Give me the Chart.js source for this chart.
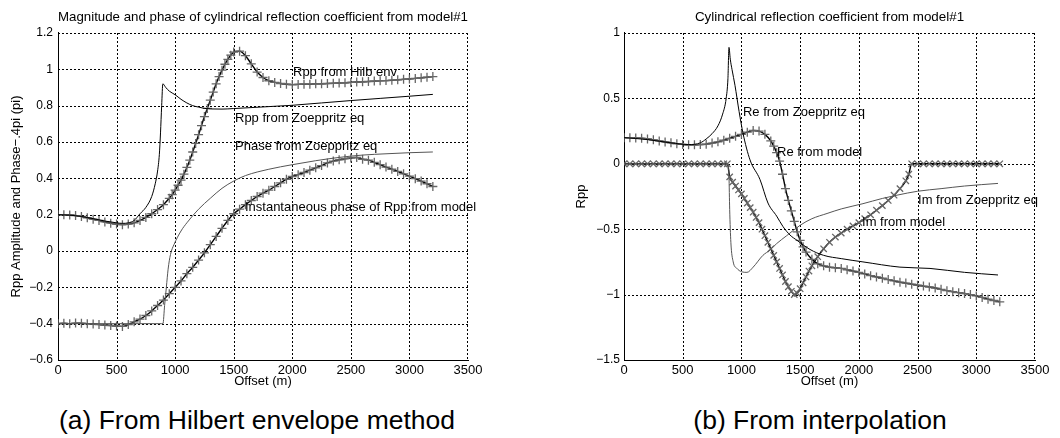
<!DOCTYPE html>
<html>
<head>
<meta charset="utf-8">
<script src="https://cdn.jsdelivr.net/npm/chart.js@4.4.1/dist/chart.umd.min.js"></script>
<style>
  body { margin: 0; background: #fff; width: 1060px; height: 438px; overflow: hidden; position: relative;
         font-family: "Liberation Sans", Arial, sans-serif; }
  .panel { position: absolute; top: 0; width: 530px; height: 395px; }
  .caption { position: absolute; top: 407px; width: 420px; font-size: 26.5px; line-height: 26.5px;
             color: #000; text-align: center; white-space: nowrap; }
</style>
</head>
<body>
<div class="panel" style="left:0"><canvas id="chart-a" width="530" height="395"></canvas></div>
<div class="panel" style="left:530px"><canvas id="chart-b" width="530" height="395"></canvas></div>
<div class="caption" style="left:47px">(a) From Hilbert envelope method</div>
<div class="caption" style="left:610px">(b) From interpolation</div>
<script>
// ---- panel (a): magnitude and phase ----
const zoeMagX = [0, 100, 200, 300, 400, 500, 550, 600, 650, 700, 750, 800, 830, 850, 865, 875, 885, 895,
  920, 950, 1000, 1050, 1100, 1150, 1200, 1250, 1300, 1400, 1500, 1750, 2000, 2250, 2500, 2750, 3000, 3200];
const zoeMag = [0.2, 0.197, 0.19, 0.178, 0.165, 0.155, 0.152, 0.155, 0.168, 0.205, 0.24, 0.3, 0.37, 0.44, 0.53, 0.65, 0.8, 0.92,
  0.9, 0.88, 0.86, 0.835, 0.815, 0.8, 0.792, 0.785, 0.782, 0.781, 0.784, 0.793, 0.802, 0.815, 0.828, 0.84, 0.852, 0.862];

const zoePhaseX = [0, 500, 885, 896, 910, 925, 940, 960, 990, 1050, 1100, 1200, 1300, 1400, 1500, 1600, 1800,
  2000, 2200, 2400, 2600, 2800, 3000, 3200];
const zoePhase = [-0.4, -0.4, -0.4, -0.4, -0.3, -0.2, -0.1, -0.02, 0.035, 0.11, 0.155, 0.23, 0.29, 0.345, 0.385, 0.415, 0.45,
  0.475, 0.497, 0.515, 0.528, 0.535, 0.541, 0.545];

const hilbMagX = [0, 50, 100, 150, 200, 250, 300, 350, 400, 450, 500, 550, 600, 650, 700, 750, 800, 850, 900, 950,
  975, 1000, 1025, 1050, 1075, 1100, 1125, 1150, 1175, 1200, 1225, 1250, 1275, 1300, 1325, 1350, 1375, 1400, 1425, 1450, 1475,
  1500, 1550, 1600, 1650, 1700, 1750, 1800, 1850, 1900, 1950, 2000, 2050, 2100, 2150, 2200, 2250, 2300, 2350, 2400, 2450,
  2500, 2550, 2600, 2650, 2700, 2750, 2800, 2850, 2900, 2950, 3000, 3050, 3100, 3150, 3200];
const hilbMag = [0.2, 0.2, 0.198, 0.195, 0.19, 0.183, 0.175, 0.168, 0.16, 0.153, 0.148, 0.145, 0.148, 0.155, 0.168, 0.185, 0.205, 0.228, 0.255, 0.29,
  0.31, 0.335, 0.362, 0.39, 0.423, 0.46, 0.5, 0.545, 0.592, 0.64, 0.69, 0.74, 0.785, 0.83, 0.875, 0.92, 0.96, 0.995, 1.028, 1.055, 1.078,
  1.095, 1.1, 1.075, 1.03, 0.985, 0.955, 0.937, 0.928, 0.922, 0.918, 0.916, 0.917, 0.918, 0.918, 0.92, 0.92, 0.922, 0.923, 0.925, 0.926,
  0.928, 0.93, 0.931, 0.933, 0.935, 0.937, 0.938, 0.94, 0.942, 0.945, 0.947, 0.95, 0.953, 0.957, 0.96];

const instPhaseX = [0, 50, 100, 150, 200, 250, 300, 350, 400, 450, 500, 550, 600, 650, 700, 750, 800, 850, 900, 950,
  1000, 1050, 1100, 1150, 1200, 1250, 1300, 1350, 1400, 1450, 1500, 1550, 1600, 1650, 1700, 1750, 1800, 1850, 1900, 1950,
  2000, 2050, 2100, 2150, 2200, 2250, 2300, 2350, 2400, 2450, 2500, 2550, 2600, 2650, 2700, 2750, 2800, 2850, 2900, 2950,
  3000, 3050, 3100, 3150, 3200];
const instPhase = [-0.4, -0.398, -0.4, -0.397, -0.398, -0.4, -0.402, -0.405, -0.408, -0.41, -0.413, -0.415, -0.405, -0.39, -0.375, -0.355, -0.33, -0.3, -0.27, -0.235,
  -0.2, -0.165, -0.125, -0.09, -0.05, -0.01, 0.035, 0.08, 0.125, 0.168, 0.205, 0.23, 0.255, 0.278, 0.3, 0.318, 0.335, 0.355, 0.375, 0.395,
  0.41, 0.42, 0.432, 0.445, 0.458, 0.47, 0.485, 0.495, 0.502, 0.508, 0.512, 0.515, 0.505, 0.5, 0.488, 0.475, 0.462, 0.45, 0.438, 0.425,
  0.412, 0.398, 0.385, 0.37, 0.355];

const labelsA = [
  { text: 'Rpp from Hilb env', x: 2006, y: 0.985 },
  { text: 'Rpp from Zoeppritz eq', x: 1511, y: 0.732 },
  { text: 'Phase from Zoeppritz eq', x: 1511, y: 0.578 },
  { text: 'Instantaneous phase of Rpp from model', x: 1596, y: 0.242 }
];

// ---- panel (b): real and imaginary parts ----
const zoeReX = [0, 200, 400, 550, 650, 700, 750, 800, 840, 870, 885, 894, 905, 920, 945, 980, 1013, 1073, 1158, 1226,
  1300, 1354, 1414, 1473, 1584, 1700, 1850, 2035, 2350, 2606, 2900, 3185];
const zoeRe = [0.2, 0.185, 0.16, 0.147, 0.16, 0.19, 0.23, 0.29, 0.38, 0.5, 0.65, 0.89, 0.8, 0.72, 0.6, 0.4, 0.235, 0.03, -0.12, -0.3,
  -0.4, -0.48, -0.545, -0.585, -0.655, -0.7, -0.725, -0.75, -0.79, -0.8, -0.83, -0.85];

const zoeImX = [0, 500, 885, 894, 900, 910, 930, 962, 1000, 1047, 1100, 1183, 1243, 1300, 1385, 1500, 1600, 1729, 1850,
  2035, 2200, 2325, 2500, 2700, 2900, 3185];
const zoeIm = [0, 0, 0, -0.1, -0.35, -0.6, -0.75, -0.8, -0.825, -0.83, -0.79, -0.7, -0.66, -0.61, -0.55, -0.47, -0.42, -0.38, -0.345,
  -0.305, -0.265, -0.24, -0.21, -0.19, -0.17, -0.15];

const modelReX = [0, 50, 100, 150, 200, 250, 300, 350, 400, 450, 500, 550, 600, 650, 700, 750, 800, 850, 900, 950,
  1000, 1050, 1100, 1150, 1200, 1250, 1275, 1300, 1325, 1350, 1375, 1400, 1425, 1450, 1475, 1500, 1525, 1550,
  1600, 1650, 1700, 1750, 1800, 1850, 1900, 1950, 2000, 2050, 2100, 2150, 2200, 2250, 2300, 2350, 2400, 2450,
  2500, 2550, 2600, 2650, 2700, 2750, 2800, 2850, 2900, 2950, 3000, 3050, 3100, 3150, 3200];
const modelRe = [0.2, 0.2, 0.198, 0.195, 0.19, 0.183, 0.175, 0.167, 0.16, 0.153, 0.148, 0.145, 0.145, 0.147, 0.15, 0.158, 0.168, 0.18, 0.195, 0.21,
  0.225, 0.242, 0.255, 0.25, 0.225, 0.175, 0.135, 0.085, 0.02, -0.08, -0.19, -0.28, -0.36, -0.44, -0.52, -0.585, -0.635, -0.675,
  -0.73, -0.765, -0.78, -0.79, -0.795, -0.8, -0.81, -0.82, -0.83, -0.842, -0.855, -0.865, -0.875, -0.885, -0.895, -0.905, -0.912, -0.92,
  -0.928, -0.935, -0.942, -0.95, -0.96, -0.97, -0.978, -0.985, -0.992, -1.0, -1.01, -1.022, -1.035, -1.045, -1.055];

const modelImX = [0, 50, 100, 150, 200, 250, 300, 350, 400, 450, 500, 550, 600, 650, 700, 750, 800, 850, 880,
  900, 925, 950, 975, 1000, 1025, 1050, 1075, 1100, 1125, 1150, 1175, 1200, 1225, 1250, 1275, 1300, 1325, 1350, 1375,
  1400, 1425, 1450, 1475, 1500, 1525, 1550, 1575, 1600, 1650, 1700, 1750, 1800, 1850, 1900, 1950, 2000, 2050, 2100,
  2150, 2200, 2250, 2300, 2350, 2400, 2425, 2450, 2500, 2550, 2600, 2650, 2700, 2750, 2800, 2850, 2900, 2950, 3000,
  3050, 3100, 3150, 3200];
const modelIm = [0, 0, 0, 0, 0, 0, 0, 0, 0, 0, 0, 0, 0, 0, 0, 0, 0, 0, 0,
  -0.1, -0.14, -0.17, -0.2, -0.23, -0.265, -0.3, -0.335, -0.37, -0.41, -0.45, -0.5, -0.55, -0.6, -0.65, -0.7, -0.75, -0.8, -0.85, -0.9,
  -0.94, -0.975, -1.0, -0.99, -0.955, -0.91, -0.865, -0.82, -0.78, -0.71, -0.65, -0.6, -0.56, -0.53, -0.5, -0.475, -0.45, -0.42, -0.39,
  -0.355, -0.32, -0.28, -0.24, -0.19, -0.13, -0.08, 0, 0, 0, 0, 0, 0, 0, 0, 0, 0, 0, 0,
  0, 0, 0, 0];

const labelsB = [
  { text: 'Re from Zoeppritz eq', x: 1013, y: 0.39 },
  { text: 'Re from model', x: 1303, y: 0.09 },
  { text: 'Im from Zoeppritz eq', x: 2504, y: -0.277 },
  { text: 'Im from model', x: 2027, y: -0.445 }
];

const offsetTicks = [0, 500, 1000, 1500, 2000, 2500, 3000, 3500];

// ---- helpers ----
const FONT = '"Liberation Sans", Arial, sans-serif';
const pts = (xs, ys) => xs.map((x, i) => ({ x, y: ys[i] }));
const fmt = v => {
  const r = Math.round(v * 10) / 10;
  return r < 0 ? '\u2212' + Math.abs(r) : String(r);
};

function thinLine(xs, ys, color) {
  return { data: pts(xs, ys), borderColor: color, borderWidth: 1, pointRadius: 0,
           cubicInterpolationMode: 'monotone', fill: false };
}

function markerLine(xs, ys, style) {
  return { data: pts(xs, ys), borderColor: '#000', borderWidth: 1.4, fill: false,
           pointStyle: style, pointRadius: 4.5, pointBorderColor: '#666', pointBorderWidth: 1.3,
           pointBackgroundColor: 'transparent', cubicInterpolationMode: 'monotone' };
}

// matlab style dotted grid along each tick of the scales, under the curves
const dottedGrid = {
  id: 'dottedGrid',
  beforeDatasetsDraw(chart) {
    const { ctx, chartArea: a, scales: { x, y } } = chart;
    ctx.save();
    ctx.strokeStyle = '#000';
    ctx.lineWidth = 1;
    ctx.setLineDash([2, 2]);
    ctx.beginPath();
    x.ticks.forEach(t => {
      if (Math.abs(t.value - x.min) < 1e-9) return;
      const px = Math.min(Math.round(x.getPixelForValue(t.value)), Math.round(a.right) - 1) + 0.5;
      ctx.moveTo(px, Math.round(a.top));
      ctx.lineTo(px, Math.round(a.bottom));
    });
    y.ticks.forEach(t => {
      if (Math.abs(t.value - y.min) < 1e-9) return;
      const py = Math.round(y.getPixelForValue(t.value)) + 0.5;
      ctx.moveTo(Math.round(a.left), py);
      ctx.lineTo(Math.round(a.right), py);
    });
    ctx.stroke();
    ctx.restore();
  }
};

// text labels placed next to the curves, in data units
const curveLabels = {
  id: 'curveLabels',
  afterDatasetsDraw(chart, args, opts) {
    const { ctx, scales: { x, y } } = chart;
    ctx.save();
    ctx.font = '13px ' + FONT;
    ctx.fillStyle = '#000';
    ctx.textBaseline = 'middle';
    ctx.textAlign = 'left';
    opts.items.forEach(it => ctx.fillText(it.text, x.getPixelForValue(it.x), y.getPixelForValue(it.y)));
    ctx.restore();
  }
};

function makeChart(id, cfg) {
  return new Chart(document.getElementById(id), {
    type: 'line',
    data: { datasets: cfg.datasets },
    options: {
      responsive: false,
      animation: false,
      layout: { padding: cfg.padding },
      plugins: {
        legend: { display: false },
        tooltip: { enabled: false },
        title: { display: true, text: cfg.title, color: '#000', fullSize: false,
                 font: { size: 13.4, weight: 'normal', family: FONT }, padding: { top: 9, bottom: 7.9 } },
        curveLabels: { items: cfg.labels }
      },
      scales: {
        x: {
          type: 'linear', min: 0, max: 3500,
          afterBuildTicks: s => { s.ticks = offsetTicks.map(v => ({ value: v })); },
          ticks: { color: '#000', padding: 3, maxRotation: 0, font: { size: 13, family: FONT }, callback: v => String(v) },
          grid: { display: false, drawTicks: false },
          border: { display: true, color: '#000', width: 1 },
          title: { display: true, text: 'Offset (m)', color: '#000', font: { size: 13, family: FONT },
                   padding: { top: 0, bottom: 5.5 } },
          afterFit: s => { s.height = 35; }
        },
        y: {
          min: cfg.yMin, max: cfg.yMax,
          ticks: { stepSize: cfg.yStep, color: '#000', padding: cfg.tickPad, font: { size: 12, family: FONT }, callback: fmt },
          grid: { display: false, drawTicks: false },
          border: { display: true, color: '#000', width: 1 },
          title: { display: true, text: cfg.yTitle, color: '#000', font: { size: 13, family: FONT },
                   padding: { top: cfg.yTitlePad, bottom: 0 } },
          afterFit: s => { s.width = 58; }
        }
      }
    },
    plugins: [dottedGrid, curveLabels]
  });
}

makeChart('chart-a', {
  title: 'Magnitude and phase of cylindrical reflection coefficient from model#1',
  yTitle: 'Rpp Amplitude and Phase\u2212.4pi (pi)',
  yMin: -0.6, yMax: 1.2, yStep: 0.2, tickPad: 5, yTitlePad: 9,
  padding: { left: 0, right: 62, top: 0, bottom: 0 },
  labels: labelsA,
  datasets: [
    thinLine(zoeMagX, zoeMag, '#000'),
    thinLine(zoePhaseX, zoePhase, '#555'),
    markerLine(hilbMagX, hilbMag, 'cross'),
    markerLine(instPhaseX, instPhase, 'cross')
  ]
});

makeChart('chart-b', {
  title: 'Cylindrical reflection coefficient from model#1',
  yTitle: 'Rpp',
  yMin: -1.5, yMax: 1, yStep: 0.5, tickPad: 4, yTitlePad: 8,
  padding: { left: 36, right: 25, top: 0, bottom: 0 },
  labels: labelsB,
  datasets: [
    thinLine(zoeReX, zoeRe, '#000'),
    thinLine(zoeImX, zoeIm, '#555'),
    markerLine(modelReX, modelRe, 'cross'),
    markerLine(modelImX, modelIm, 'crossRot')
  ]
});
</script>
</body>
</html>
